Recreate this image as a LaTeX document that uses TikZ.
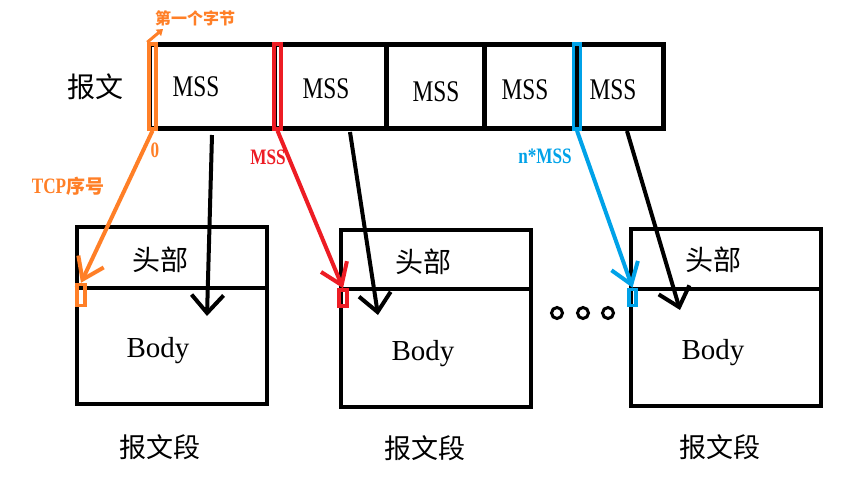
\documentclass[tikz,border=0pt]{standalone}
\usepackage{fontspec}
\setmainfont{Liberation Serif}
\newfontfamily\cjk{Noto Sans CJK SC}
\newfontfamily\narrow[FakeStretch=0.78]{Liberation Serif}
\usetikzlibrary{arrows.meta}
\definecolor{paintorange}{RGB}{255,127,39}
\definecolor{paintred}{RGB}{237,28,36}
\definecolor{paintblue}{RGB}{0,162,232}

\begin{document}
\begin{tikzpicture}[x=1pt,y=-1pt,
  cell/.style={draw,line width=5pt,minimum height=84pt,inner sep=0pt},
  seg/.style={draw,line width=4pt,minimum width=190pt,minimum height=177pt,anchor=north west,inner sep=0pt},
  byte/.style={draw=#1,line width=3.5pt,minimum width=7pt,inner sep=0pt},
  seq/.style={draw=#1,line width=4pt,-{Straight Barb[length=20pt,width=28pt]}},
  flow/.style={draw,line width=4pt,-{Straight Barb[length=18pt,width=32pt]}},
  mss/.style={font=\narrow\fontsize{30}{32}\selectfont},
  small/.style={font=\narrow\bfseries\fontsize{22}{24}\selectfont,text=#1},
  title/.style={font=\cjk\fontsize{28}{32}\selectfont},
  dot/.style={circle,draw,line width=3pt,minimum size=11pt,inner sep=0pt}]

  \useasboundingbox (0,0) rectangle (853,479);

  % the message cut into MSS pieces

  \node [title] (msg) at (95,87) {报文};
  \node [cell,minimum width=124.5pt] (c1) at (211.75,86.5) {};
  \node [cell,minimum width=112pt] (c2) at (330,86.5) {};
  \node [cell,minimum width=98pt] (c3) at (435,86.5) {};
  \node [cell,minimum width=93pt] (c4) at (530.5,86.5) {};
  \node [cell,minimum width=86.5pt] (c5) at (620.25,86.5) {};
  \node [mss] (t1) at (196,87) {MSS};
  \node [mss] (t2) at (326,89) {MSS};
  \node [mss] (t3) at (436,92) {MSS};
  \node [mss] (t4) at (525,90) {MSS};
  \node [mss] (t5) at (613,90) {MSS};

  \node [byte=paintorange,minimum height=85pt] (m0) at (152.5,86.5) {};
  \node [byte=paintred,minimum height=85pt] (m1) at (277.5,86.5) {};
  \node [byte=paintblue,minimum height=85pt] (m2) at (577,86.5) {};

  \node [font=\cjk\bfseries\fontsize{16}{18}\selectfont,text=paintorange] (first) at (195,18) {第一个字节};
  \coordinate (firstpt) at (163,29);
  \draw [paintorange,line width=3pt,-{Triangle[length=6pt,width=8pt]}] (m0.north west) -- (firstpt);

  \node [small=paintorange] (n0) at (155,150) {0};
  \node [small=paintred] (n1) at (268,157) {MSS};
  \node [small=paintblue] (n2) at (545,156) {n*MSS};
  \node [text=paintorange] (tcp) at (68,186) {\narrow\bfseries\fontsize{22}{24}\selectfont TCP\cjk\fontsize{19}{22}\selectfont 序号};

  % the segments

  \node [seg] (b1) at (74.7,225) {};
  \node [seg] (b2) at (339,227.5) {};
  \node [seg] (b3) at (629,227) {};
  \draw [line width=4pt] ([yshift=-62.5pt]b1.north west) -- ([yshift=-62.5pt]b1.north east);
  \draw [line width=4pt] ([yshift=-61.5pt]b2.north west) -- ([yshift=-61.5pt]b2.north east);
  \draw [line width=4pt] ([yshift=-62pt]b3.north west) -- ([yshift=-62pt]b3.north east);

  \node [title] (h1) at (160,260) {头部};
  \node [title] (h2) at (423,262) {头部};
  \node [title] (h3) at (713,260) {头部};
  \node [font=\fontsize{29}{31}\selectfont] (body1) at (158,351) {Body};
  \node [font=\fontsize{29}{31}\selectfont] (body2) at (423,354) {Body};
  \node [font=\fontsize{29}{31}\selectfont] (body3) at (713,353) {Body};
  \node [font=\cjk\fontsize{27}{30}\selectfont] (s1) at (160,447) {报文段};
  \node [font=\cjk\fontsize{27}{30}\selectfont] (s2) at (425,448) {报文段};
  \node [font=\cjk\fontsize{27}{30}\selectfont] (s3) at (720,447) {报文段};

  \node [byte=paintorange,minimum width=8pt,minimum height=21pt] (k0) at (81,295) {};
  \node [byte=paintred,minimum width=8pt,minimum height=16pt] (k1) at (343,298) {};
  \node [byte=paintblue,minimum height=16pt] (k2) at (632.5,297.5) {};

  \node [dot] (dot1) at (557,313) {};
  \node [dot] (dot2) at (583,313) {};
  \node [dot] (dot3) at (608,313) {};

  % sequence numbers and data flow

  \draw [seq=paintorange] (m0.south) -- (k0.north);
  \draw [seq=paintred] (m1.south) -- (k1.north);
  \draw [seq=paintblue] (m2.south) -- (k2.north);

  \coordinate (from1) at (212,135);
  \coordinate (to1) at (207,316);
  \coordinate (from2) at (350,132);
  \coordinate (to2) at (378,315);
  \coordinate (from3) at (627,131);
  \coordinate (to3) at (680,310);
  \draw [flow] (from1) -- (to1);
  \draw [flow] (from2) -- (to2);
  \draw [flow] (from3) -- (to3);
\end{tikzpicture}
\end{document}
